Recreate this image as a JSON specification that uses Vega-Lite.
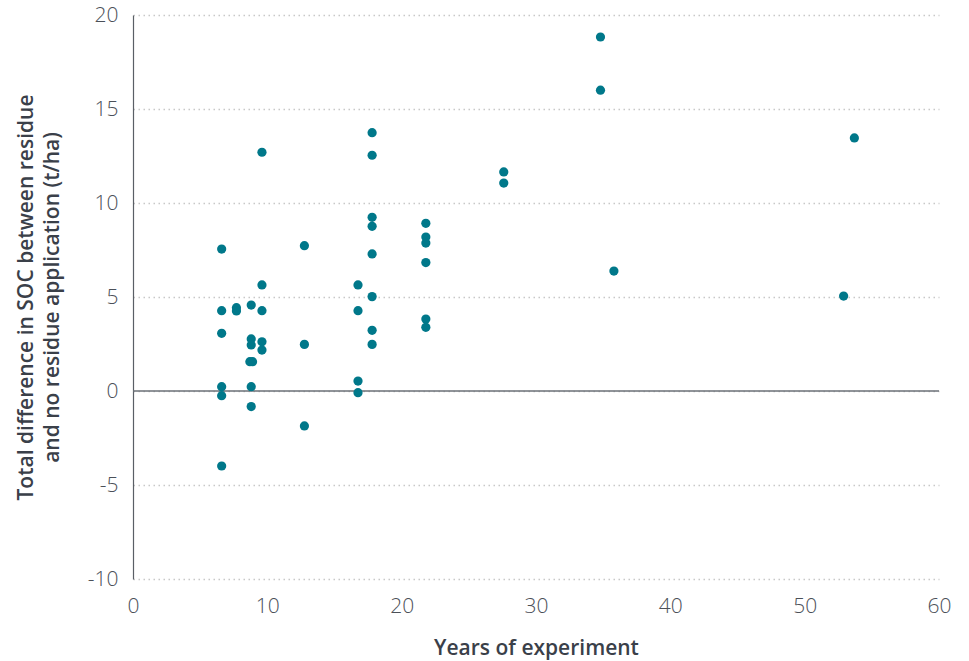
{
  "$schema": "https://vega.github.io/schema/vega-lite/v6.json",
  "autosize": {"type": "none"},
  "width": 806,
  "height": 564,
  "padding": {"left": 133, "top": 15, "right": 30, "bottom": 82},
  "background": "white",
  "config": {"view": {"stroke": null}, "font": "Open Sans"},
  "data": {"values": [
    {"years": 6.6, "diff": 7.55},
    {"years": 6.6, "diff": 4.27},
    {"years": 6.6, "diff": 3.07},
    {"years": 6.6, "diff": 0.23},
    {"years": 6.6, "diff": -0.25},
    {"years": 6.6, "diff": -3.99},
    {"years": 7.7, "diff": 4.43},
    {"years": 7.7, "diff": 4.26},
    {"years": 8.8, "diff": 4.57},
    {"years": 8.8, "diff": 2.77},
    {"years": 8.8, "diff": 2.45},
    {"years": 8.7, "diff": 1.56},
    {"years": 8.9, "diff": 1.56},
    {"years": 8.8, "diff": 0.23},
    {"years": 8.8, "diff": -0.83},
    {"years": 9.6, "diff": 12.7},
    {"years": 9.6, "diff": 5.64},
    {"years": 9.6, "diff": 4.27},
    {"years": 9.6, "diff": 2.62},
    {"years": 9.6, "diff": 2.18},
    {"years": 12.76, "diff": 7.73},
    {"years": 12.76, "diff": 2.48},
    {"years": 12.76, "diff": -1.86},
    {"years": 16.75, "diff": 5.64},
    {"years": 16.75, "diff": 4.27},
    {"years": 16.75, "diff": 0.53},
    {"years": 16.75, "diff": -0.09},
    {"years": 17.8, "diff": 13.74},
    {"years": 17.8, "diff": 12.54},
    {"years": 17.8, "diff": 9.24},
    {"years": 17.8, "diff": 8.76},
    {"years": 17.8, "diff": 7.29},
    {"years": 17.8, "diff": 5.02},
    {"years": 17.8, "diff": 3.23},
    {"years": 17.8, "diff": 2.48},
    {"years": 21.8, "diff": 8.92},
    {"years": 21.8, "diff": 8.19},
    {"years": 21.8, "diff": 7.87},
    {"years": 21.8, "diff": 6.83},
    {"years": 21.8, "diff": 3.83},
    {"years": 21.8, "diff": 3.39},
    {"years": 27.6, "diff": 11.65},
    {"years": 27.6, "diff": 11.06},
    {"years": 34.8, "diff": 18.83},
    {"years": 34.8, "diff": 16.0},
    {"years": 35.8, "diff": 6.38},
    {"years": 52.9, "diff": 5.05},
    {"years": 53.7, "diff": 13.46}
  ]},
  "layer": [
    {
      "data": {"values": [{"z": 0}]},
      "mark": {"type": "rule", "color": "#6b7077", "strokeWidth": 1.5},
      "encoding": {"y": {"field": "z", "type": "quantitative", "scale": {"domain": [-10, 20]}}}
    },
    {
      "mark": {"type": "circle", "color": "#00788a", "opacity": 1, "size": 85},
      "encoding": {
        "x": {
          "field": "years", "type": "quantitative",
          "scale": {"domain": [0, 60], "nice": false, "zero": false},
          "axis": {
            "values": [0, 10, 20, 30, 40, 50, 60],
            "title": "Years of experiment",
            "grid": false, "domain": false, "ticks": false,
            "labelFontSize": 21, "labelFontWeight": 300, "labelColor": "#4b5058", "labelPadding": 16,
            "labelFlush": false,
            "titleFontSize": 21, "titleFontWeight": 600, "titleColor": "#3a4049",
            "titlePadding": 21
          }
        },
        "y": {
          "field": "diff", "type": "quantitative",
          "scale": {"domain": [-10, 20], "nice": false},
          "axis": {
            "values": [-10, -5, 0, 5, 10, 15, 20],
            "labelExpr": "'' + datum.value",
            "title": ["Total difference in SOC between residue", "and no residue application (t/ha)"],
            "grid": true, "gridColor": "#c8c8c8", "gridDash": [1.5, 3.5], "gridWidth": 1.3,
            "domain": true, "domainColor": "#5a5f66", "domainWidth": 1.2,
            "ticks": false,
            "labelFontSize": 21, "labelFontWeight": 300, "labelColor": "#4b5058", "labelPadding": 15,
            "titleFontSize": 21, "titleFontWeight": 600, "titleColor": "#3a4049",
            "titlePadding": 25, "titleLineHeight": 26
          }
        }
      }
    }
  ]
}
